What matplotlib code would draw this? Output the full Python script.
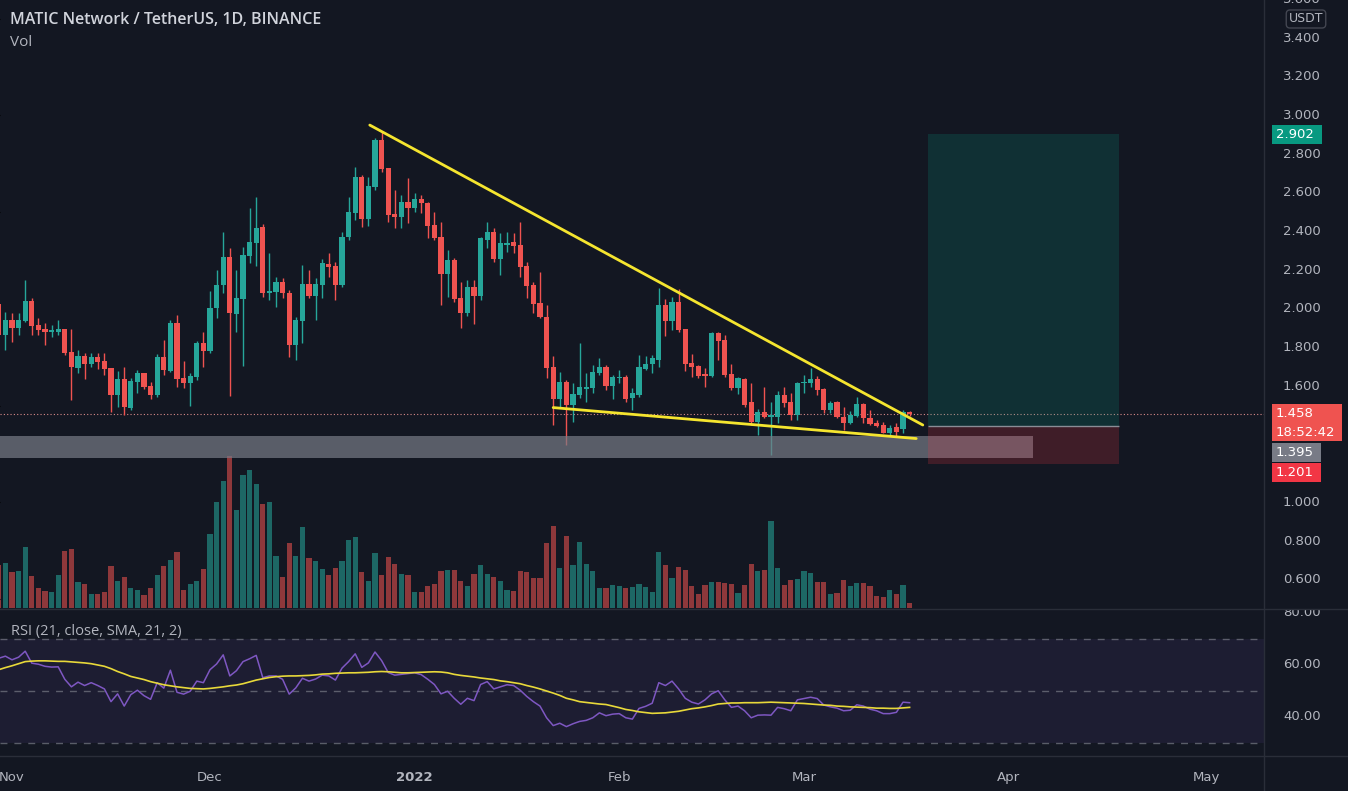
import numpy as np
import pandas as pd
import matplotlib
matplotlib.use("Agg")
import matplotlib.pyplot as plt
import matplotlib.dates as mdates
from matplotlib.patches import Rectangle

# MATIC/USDT daily candles, 30 Oct 2021 -> 17 Mar 2022
first_day = "2021-10-30"
open_ = [2.025, 1.865, 1.943, 1.901, 1.937, 2.041, 1.917, 1.896, 1.880, 1.880,
         1.896, 1.777, 1.695, 1.757, 1.715, 1.752, 1.731, 1.695, 1.555, 1.638,
         1.488, 1.622, 1.669, 1.602, 1.555, 1.752, 1.679, 1.927, 1.643, 1.617,
         1.648, 1.824, 1.782, 2.005, 2.123, 2.268, 1.974, 2.051, 2.273, 2.341,
         2.423, 2.082, 2.087, 2.139, 2.082, 1.814, 1.937, 2.129, 2.067, 2.123,
         2.232, 2.222, 2.123, 2.372, 2.495, 2.682, 2.465, 2.630, 2.873, 2.728,
         2.490, 2.475, 2.552, 2.521, 2.568, 2.547, 2.434, 2.372, 2.180, 2.253,
         2.056, 1.979, 2.113, 2.067, 2.356, 2.397, 2.258, 2.330, 2.346, 2.330,
         2.222, 2.123, 2.030, 1.958, 1.700, 1.534, 1.622, 1.503, 1.555, 1.586,
         1.591, 1.669, 1.700, 1.602, 1.643, 1.648, 1.540, 1.555, 1.690, 1.715,
         1.736, 2.020, 1.937, 2.036, 1.896, 1.721, 1.705, 1.664, 1.653, 1.875,
         1.839, 1.664, 1.591, 1.638, 1.519, 1.416, 1.467, 1.441, 1.441, 1.555,
         1.519, 1.452, 1.617, 1.617, 1.638, 1.586, 1.478, 1.519, 1.441, 1.410,
         1.446, 1.509, 1.436, 1.410, 1.400, 1.359, 1.390, 1.379, 1.467]
high = [2.036, 1.984, 1.979, 1.979, 2.149, 2.056, 1.953, 1.927, 1.917, 1.943,
        1.896, 1.896, 1.788, 1.772, 1.772, 1.772, 1.772, 1.695, 1.679, 1.700,
        1.643, 1.684, 1.669, 1.622, 1.767, 1.839, 1.943, 1.968, 1.731, 1.669,
        1.834, 1.880, 2.092, 2.201, 2.397, 2.315, 2.201, 2.320, 2.521, 2.578,
        2.439, 2.289, 2.165, 2.160, 2.098, 1.958, 2.227, 2.201, 2.160, 2.258,
        2.289, 2.242, 2.397, 2.578, 2.733, 2.692, 2.682, 2.883, 2.914, 2.728,
        2.614, 2.589, 2.676, 2.599, 2.589, 2.552, 2.501, 2.449, 2.304, 2.263,
        2.139, 2.149, 2.149, 2.372, 2.449, 2.418, 2.392, 2.397, 2.392, 2.449,
        2.242, 2.139, 2.190, 2.020, 1.757, 1.674, 1.633, 1.617, 1.824, 1.669,
        1.710, 1.746, 1.710, 1.659, 1.684, 1.659, 1.591, 1.762, 1.757, 1.762,
        2.108, 2.051, 2.061, 2.103, 1.896, 1.767, 1.710, 1.695, 1.880, 1.880,
        1.865, 1.715, 1.648, 1.643, 1.617, 1.483, 1.596, 1.519, 1.576, 1.596,
        1.565, 1.622, 1.659, 1.695, 1.653, 1.591, 1.524, 1.524, 1.493, 1.472,
        1.545, 1.514, 1.478, 1.426, 1.416, 1.400, 1.410, 1.478, 1.472]
low = [1.855, 1.788, 1.829, 1.865, 1.932, 1.865, 1.865, 1.814, 1.855, 1.865,
       1.762, 1.529, 1.669, 1.638, 1.700, 1.690, 1.659, 1.467, 1.493, 1.452,
       1.478, 1.565, 1.586, 1.534, 1.545, 1.659, 1.674, 1.596, 1.591, 1.498,
       1.633, 1.700, 1.772, 1.953, 2.082, 1.550, 1.881, 1.705, 2.237, 2.222,
       2.061, 2.046, 2.010, 2.056, 1.752, 1.736, 1.824, 2.056, 1.943, 2.056,
       2.165, 2.046, 2.113, 2.356, 2.459, 2.423, 2.428, 2.614, 2.708, 2.449,
       2.418, 2.418, 2.444, 2.501, 2.495, 2.366, 2.356, 2.020, 2.061, 2.036,
       1.901, 1.963, 1.922, 2.046, 2.315, 2.242, 2.175, 2.294, 2.289, 2.165,
       2.056, 1.979, 1.953, 1.643, 1.400, 1.488, 1.297, 1.416, 1.540, 1.519,
       1.565, 1.659, 1.581, 1.534, 1.617, 1.519, 1.478, 1.545, 1.684, 1.669,
       1.700, 1.858, 1.891, 1.880, 1.679, 1.648, 1.643, 1.596, 1.648, 1.736,
       1.648, 1.581, 1.560, 1.493, 1.400, 1.348, 1.436, 1.245, 1.410, 1.493,
       1.426, 1.426, 1.565, 1.596, 1.555, 1.462, 1.462, 1.436, 1.374, 1.405,
       1.441, 1.410, 1.400, 1.390, 1.359, 1.343, 1.338, 1.359, 1.447]
close = [1.865, 1.943, 1.901, 1.943, 2.041, 1.912, 1.891, 1.880, 1.891, 1.896,
         1.772, 1.700, 1.757, 1.715, 1.752, 1.726, 1.690, 1.555, 1.638, 1.493,
         1.627, 1.669, 1.596, 1.555, 1.752, 1.684, 1.927, 1.638, 1.617, 1.653,
         1.824, 1.782, 2.005, 2.123, 2.268, 1.979, 2.056, 2.278, 2.346, 2.418,
         2.082, 2.092, 2.139, 2.082, 1.814, 1.943, 2.129, 2.067, 2.129, 2.237,
         2.216, 2.123, 2.372, 2.501, 2.682, 2.465, 2.635, 2.873, 2.723, 2.485,
         2.475, 2.552, 2.521, 2.568, 2.547, 2.428, 2.366, 2.180, 2.253, 2.051,
         1.979, 2.113, 2.067, 2.366, 2.397, 2.258, 2.341, 2.341, 2.325, 2.216,
         2.118, 2.025, 1.958, 1.695, 1.534, 1.622, 1.503, 1.560, 1.596, 1.596,
         1.674, 1.700, 1.602, 1.648, 1.648, 1.534, 1.565, 1.700, 1.715, 1.746,
         2.020, 1.937, 2.036, 1.891, 1.715, 1.700, 1.653, 1.653, 1.875, 1.834,
         1.659, 1.591, 1.643, 1.503, 1.416, 1.467, 1.441, 1.452, 1.555, 1.514,
         1.452, 1.617, 1.622, 1.638, 1.581, 1.478, 1.514, 1.441, 1.410, 1.452,
         1.509, 1.436, 1.405, 1.395, 1.359, 1.385, 1.364, 1.467, 1.458]
vol_m = [43, 45, 36, 37, 61, 32, 20, 17, 16, 33,
         57, 59, 26, 24, 14, 14, 16, 42, 27, 31,
         20, 18, 13, 20, 33, 42, 48, 56, 18, 24,
         27, 39, 74, 106, 127, 152, 98, 133, 138, 124,
         104, 106, 52, 31, 65, 52, 81, 50, 47, 39,
         33, 40, 47, 68, 71, 36, 27, 55, 33, 51,
         44, 34, 33, 16, 16, 22, 24, 37, 38, 38,
         27, 22, 34, 43, 34, 31, 27, 18, 17, 37,
         36, 30, 30, 65, 82, 40, 72, 43, 66, 44,
         37, 20, 20, 23, 22, 20, 21, 24, 21, 16,
         56, 43, 30, 41, 38, 22, 14, 23, 26, 26,
         25, 24, 15, 23, 44, 37, 38, 87, 40, 23,
         28, 29, 37, 35, 26, 26, 14, 15, 28, 22,
         25, 25, 22, 12, 11, 18, 14, 23, 5]
rsi = [62.6, 63.4, 62.0, 63.0, 65.3, 60.7, 60.3, 59.5, 59.2, 59.3,
       54.5, 51.6, 53.4, 52.1, 53.2, 52.1, 50.8, 45.9, 48.9, 44.2,
       48.6, 50.3, 48.2, 46.8, 53.2, 51.1, 58.0, 49.5, 48.8, 49.9,
       53.8, 53.2, 58.2, 60.4, 63.9, 55.8, 57.8, 61.3, 62.4, 63.7,
       55.1, 55.8, 55.8, 54.5, 48.8, 51.2, 54.9, 53.8, 54.6, 56.1,
       55.8, 54.2, 58.8, 61.3, 64.3, 59.1, 60.8, 65.0, 61.7, 57.1,
       56.1, 56.4, 56.7, 57.0, 56.3, 54.5, 52.5, 48.9, 49.9, 47.2,
       44.9, 47.2, 46.3, 52.5, 53.6, 50.8, 51.6, 52.4, 52.1, 50.3,
       47.9, 45.9, 44.2, 39.7, 36.7, 37.6, 36.3, 37.4, 38.3, 38.7,
       39.7, 41.6, 40.5, 41.1, 41.3, 39.7, 39.2, 43.3, 44.1, 45.3,
       53.2, 52.1, 53.8, 50.8, 47.2, 45.7, 45.0, 46.6, 48.9, 50.1,
       46.6, 43.7, 44.2, 42.4, 39.7, 40.7, 40.8, 40.7, 43.7, 43.2,
       42.4, 46.6, 47.1, 47.6, 47.1, 44.6, 43.9, 43.4, 42.4, 42.6,
       44.7, 44.2, 43.0, 42.4, 41.3, 41.3, 41.8, 45.7, 45.5]
rsi_ma = [58.2, 59.0, 59.7, 60.5, 61.3, 61.5, 61.6, 61.6, 61.5, 61.4,
          61.4, 61.2, 61.0, 60.8, 60.5, 60.0, 59.5, 58.6, 57.5, 56.6,
          55.6, 55.0, 54.4, 53.6, 53.0, 52.4, 52.0, 51.6, 51.3, 51.0,
          50.9, 50.8, 51.0, 51.3, 51.6, 52.0, 52.3, 52.8, 53.5, 54.2,
          54.7, 55.2, 55.5, 55.7, 55.8, 55.8, 55.9, 56.0, 56.2, 56.5,
          56.6, 56.8, 56.9, 57.0, 57.0, 57.1, 57.2, 57.4, 57.5, 57.4,
          57.2, 57.0, 57.0, 57.1, 57.2, 57.3, 57.4, 57.3, 57.0, 56.4,
          56.0, 55.7, 55.4, 55.0, 54.7, 54.4, 53.9, 53.6, 53.2, 52.8,
          52.1, 51.5, 50.8, 50.0, 49.2, 48.3, 47.2, 46.6, 45.9, 45.6,
          45.3, 45.0, 44.8, 44.2, 43.6, 42.9, 42.5, 42.0, 41.7, 41.4,
          41.5, 41.6, 41.9, 42.2, 42.7, 43.2, 43.5, 43.9, 44.4, 45.0,
          45.2, 45.4, 45.4, 45.5, 45.5, 45.5, 45.6, 45.7, 45.6, 45.5,
          45.4, 45.3, 45.2, 45.0, 44.8, 44.6, 44.5, 44.2, 44.1, 43.9,
          43.8, 43.7, 43.6, 43.4, 43.4, 43.3, 43.3, 43.5, 43.7]

# drawings on the chart
trend_hi = [("2021-12-25 05:00", 2.95), ("2022-03-19 00:00", 1.40)]
trend_lo = [("2022-01-22 00:00", 1.49), ("2022-03-18 00:00", 1.33)]
zone_span = ("2021-10-01 00:00", "2022-04-04 17:00")
zone_lo, zone_hi = 1.230, 1.343
pos_span = ("2022-03-19 19:00", "2022-04-17 17:00")
entry, target, stop = 1.395, 2.902, 1.201
last_price = 1.458
countdown = "18:52:42"

month_ticks = ["2021-11-01", "2021-12-01", "2022-01-01", "2022-02-01",
               "2022-03-01", "2022-04-01", "2022-05-01"]
month_labels = ["Nov", "Dec", "2022", "Feb", "Mar", "Apr", "May"]
# 1.200 / 1.400 sit under the coloured price tags, so they are not shown
price_ticks = [0.6, 0.8, 1.0, 1.6, 1.8, 2.0, 2.2, 2.4, 2.6, 2.8,
               3.0, 3.2, 3.4, 3.6]
rsi_ticks = [40, 60, 80]

# colours
BG = "#131722"
UP, DN = "#26a69a", "#ef5350"
TXT = "#b2b5be"
LINE = "#2a2e39"

W, H = 1348, 791
CHART_R = 1264
PRICE_B = 608
RSI_T, RSI_B = 610, 756


def dnum(s):
    return mdates.date2num(pd.Timestamp(s))


x = mdates.date2num(pd.date_range(first_day, periods=len(close), freq="D"))
o = np.array(open_); c = np.array(close)
hi = np.array(high); lo = np.array(low)
up = c >= o
cols = np.where(up, UP, DN)

fig = plt.figure(figsize=(W / 100, H / 100), dpi=100, facecolor=BG)
ax = fig.add_axes([0, 1 - PRICE_B / H, CHART_R / W, PRICE_B / H])
axr = fig.add_axes([0, 1 - RSI_B / H, CHART_R / W, (RSI_B - RSI_T) / H], sharex=ax)
ax_ps = fig.add_axes([CHART_R / W, 1 - PRICE_B / H, (W - CHART_R) / W, PRICE_B / H], sharey=ax)
ax_rs = fig.add_axes([CHART_R / W, 1 - RSI_B / H, (W - CHART_R) / W, (RSI_B - RSI_T) / H], sharey=axr)
SW = W - CHART_R  # price scale width in px

for a in (ax, axr, ax_ps, ax_rs):
    a.set_facecolor(BG)
    for s in a.spines.values():
        s.set_visible(False)
    a.tick_params(left=False, right=False, bottom=False, top=False,
                  labelleft=False, labelright=False, labelbottom=False)

# x range: 6.6 px per day, Nov 1 sits at x=12px
nov1 = dnum("2021-11-01")
ppd = 6.6
ax.set_xlim(nov1 - 12 / ppd, nov1 + (CHART_R - 12) / ppd)
p_top = 3.4 + 38 / 193.5
p_bot = p_top - PRICE_B / 193.5
ax.set_ylim(p_bot, p_top)
ppx = (p_top - p_bot) / PRICE_B
axr.set_ylim(60 - (RSI_B - 665) / 2.6, 60 + (665 - RSI_T) / 2.6)

# volume (behind candles)
axv = ax.twinx()
axv.set_ylim(0, max(vol_m) * 4)
axv.axis("off")
axv.bar(x, vol_m, width=0.76, color=cols, alpha=0.56, linewidth=0)
ax.set_zorder(axv.get_zorder() + 1)
ax.patch.set_visible(False)

# candles
ax.vlines(x, lo, hi, colors=cols, linewidth=1, zorder=3)
body = np.maximum(np.abs(c - o), 0.004)
ax.bar(x, body, bottom=np.minimum(o, c), width=0.76, color=cols, linewidth=0, zorder=4)

# support zone
z0, z1 = dnum(zone_span[0]), dnum(zone_span[1])
ax.add_patch(Rectangle((z0, zone_lo), z1 - z0, zone_hi - zone_lo,
                       facecolor="#787b86", alpha=0.7, edgecolor="none", zorder=5))

# long position tool
p0, p1 = dnum(pos_span[0]), dnum(pos_span[1])
ax.add_patch(Rectangle((p0, entry), p1 - p0, target - entry,
                       facecolor=(8 / 255, 153 / 255, 129 / 255, 0.2), edgecolor="none", zorder=6))
ax.add_patch(Rectangle((p0, stop), p1 - p0, entry - stop,
                       facecolor=(242 / 255, 54 / 255, 69 / 255, 0.2), edgecolor="none", zorder=6))
ax.hlines(entry, p0, p1, color="#8a8d96", linewidth=1, zorder=7)

# wedge lines
for tl in (trend_hi, trend_lo):
    ax.plot([dnum(t[0]) for t in tl], [t[1] for t in tl], color="#f5e52f",
            linewidth=2, zorder=8, solid_capstyle="round")

# last price line
ax.axhline(last_price, color="#d98a8a", linewidth=0.8, linestyle=(0, (1, 2)), zorder=2)

# RSI pane
axr.axhspan(30, 70, color="#7e57c2", alpha=0.1, linewidth=0)
for lvl in (70, 50, 30):
    axr.axhline(lvl, color="#787b86", linewidth=1, alpha=0.7, dashes=(5, 5))
axr.plot(x, rsi, color="#7e57c2", linewidth=1.1)
axr.plot(x, rsi_ma, color="#e8d93a", linewidth=1.2)

# time axis
axr.set_xticks([dnum(m) for m in month_ticks])
axr.set_xticklabels(month_labels)
axr.tick_params(labelbottom=True, length=0, pad=11, labelsize=9.5, labelcolor=TXT)
for t in axr.get_xticklabels():
    if t.get_text() == "2022":
        t.set_fontweight("bold")

# price scale
ytr = ax_ps.get_yaxis_transform()
for p in price_ticks:
    ax_ps.text(19 / SW, p, f"{p:.3f}", transform=ytr, color=TXT, fontsize=9.5,
               va="center", ha="left", clip_on=True)
ax_ps.text(42 / SW, p_top - 19 * ppx, "USDT", transform=ytr, color=TXT, fontsize=9,
           va="center", ha="center", zorder=6,
           bbox=dict(boxstyle="round,pad=0.2,rounding_size=0.3", fc=BG, ec="#434651", lw=1))


def tag(y_mid, h_px, w_px, color):
    ax_ps.add_patch(Rectangle((8 / SW, y_mid - h_px / 2 * ppx), w_px / SW, h_px * ppx,
                              transform=ytr, facecolor=color, edgecolor="none", zorder=5))


tx = 12 / SW
tag(target, 19, 50, "#089981")
ax_ps.text(tx, target, f"{target:.3f}", transform=ytr, color="white", fontsize=9.5,
           va="center", ha="left", zorder=6)
tag(last_price - 9 * ppx, 37, 70, "#ef5350")
ax_ps.text(tx, last_price, f"{last_price:.3f}", transform=ytr, color="white",
           fontsize=9.5, va="center", ha="left", zorder=6)
ax_ps.text(tx, last_price - 18.5 * ppx, countdown, transform=ytr, color="white",
           fontsize=9.5, va="center", ha="left", zorder=6)
tag(entry - 27 * ppx, 19, 49, "#787b86")
ax_ps.text(tx, entry - 27 * ppx, f"{entry:.3f}", transform=ytr, color="white",
           fontsize=9.5, va="center", ha="left", zorder=6)
tag(stop - 9 * ppx, 19, 49, "#f23645")
ax_ps.text(tx, stop - 9 * ppx, f"{stop:.3f}", transform=ytr, color="white",
           fontsize=9.5, va="center", ha="left", zorder=6)

rtr = ax_rs.get_yaxis_transform()
for r in rsi_ticks:
    ax_rs.text(19 / SW, r, f"{r:.2f}", transform=rtr, color=TXT, fontsize=9.5,
               va="center", ha="left", clip_on=True)

# pane separators
fig.add_artist(plt.Line2D([0, 1], [1 - 609 / H] * 2, color=LINE, linewidth=1))
fig.add_artist(plt.Line2D([0, 1], [1 - RSI_B / H] * 2, color=LINE, linewidth=1))
fig.add_artist(plt.Line2D([CHART_R / W] * 2, [0, 1], color=LINE, linewidth=1))

# legends
fig.text(10 / W, 1 - 20 / H, "MATIC Network / TetherUS, 1D, BINANCE", color="#d1d4dc",
         fontsize=11.5, fontweight="semibold", family="Open Sans", va="center")
fig.text(10 / W, 1 - 42 / H, "Vol", color=TXT, fontsize=11, family="Open Sans", va="center")
fig.text(11 / W, 1 - 632 / H, "RSI (21, close, SMA, 21, 2)", color=TXT, fontsize=10.5,
         family="Open Sans", va="center")

fig.savefig("out.png", dpi=100, facecolor=BG)
